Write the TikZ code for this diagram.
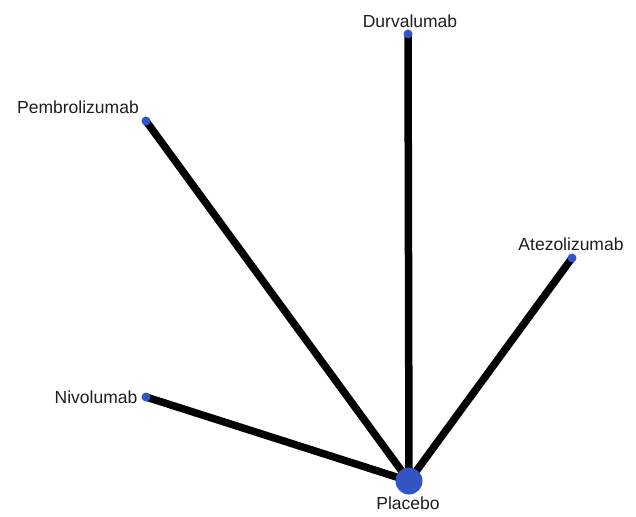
\documentclass[tikz,border=0pt]{standalone}
\usepackage{fontspec}
\setmainfont{Liberation Sans}
\definecolor{dotblue}{RGB}{52,84,196}
\definecolor{txt}{RGB}{30,30,30}
\begin{document}
\begin{tikzpicture}[x=1pt,y=-1pt,
  dot/.style={circle,fill=dotblue,inner sep=0pt,minimum size=9pt},
  bigdot/.style={circle,fill=dotblue,inner sep=0pt,minimum size=27pt},
  lbl/.style={text=txt,font=\fontsize{17.5}{20}\selectfont,inner sep=0pt},
  edge/.style={line width=7.5pt,black}]
\useasboundingbox[fill=white] (0,0) rectangle (636,516);
\coordinate (pl) at (409,481);
\coordinate (du) at (408,34);
\coordinate (pe) at (146,121);
\coordinate (at) at (572,258);
\coordinate (ni) at (146,397);
\draw[edge] (du) -- (pl);
\draw[edge] (pe) -- (pl);
\draw[edge] (at) -- (pl);
\draw[edge] (ni) -- (pl);
\node[bigdot] (Pl) at (pl) {};
\node[dot] (Du) at (du) {};
\node[dot] (Pe) at (pe) {};
\node[dot] (At) at (at) {};
\node[dot] (Ni) at (ni) {};
\node[lbl] (lDu) at (410,21) {Durvalumab};
\node[lbl] (lPe) at (78,107) {Pembrolizumab};
\node[lbl] (lAt) at (571,244) {Atezolizumab};
\node[lbl] (lNi) at (96,397) {Nivolumab};
\node[lbl] (lPl) at (408,503) {Placebo};
\end{tikzpicture}
\end{document}
